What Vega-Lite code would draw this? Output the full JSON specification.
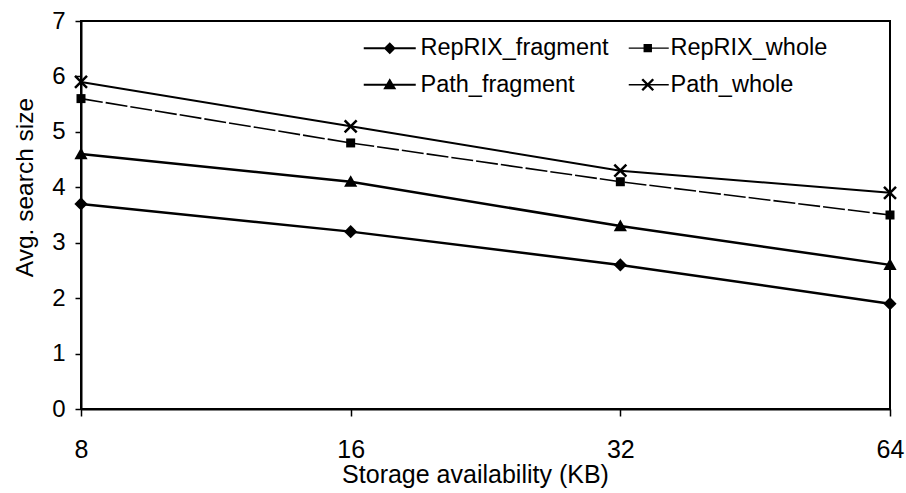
{
  "$schema": "https://vega.github.io/schema/vega-lite/v6.json",
  "autosize": {"type": "none"},
  "padding": {"left": 81, "top": 21, "right": 16, "bottom": 84},
  "width": 809,
  "height": 388,
  "background": "white",
  "config": {
    "font": "Liberation Sans",
    "view": {"stroke": "black", "strokeWidth": 2},
    "axis": {"grid": false, "domainColor": "black", "domainWidth": 2, "tickColor": "black", "tickWidth": 1.5, "labelColor": "black", "titleColor": "black", "labelFont": "Liberation Sans", "titleFont": "Liberation Sans", "labelFontSize": 24.5, "titleFontSize": 24.5, "titleFontWeight": "normal"}
  },
  "data": {
    "values": [
      {"kb": "8", "series": "RepRIX_fragment", "v": 3.7},
      {"kb": "16", "series": "RepRIX_fragment", "v": 3.2},
      {"kb": "32", "series": "RepRIX_fragment", "v": 2.6},
      {"kb": "64", "series": "RepRIX_fragment", "v": 1.9},
      {"kb": "8", "series": "RepRIX_whole", "v": 5.6},
      {"kb": "16", "series": "RepRIX_whole", "v": 4.8},
      {"kb": "32", "series": "RepRIX_whole", "v": 4.1},
      {"kb": "64", "series": "RepRIX_whole", "v": 3.5},
      {"kb": "8", "series": "Path_fragment", "v": 4.6},
      {"kb": "16", "series": "Path_fragment", "v": 4.1},
      {"kb": "32", "series": "Path_fragment", "v": 3.3},
      {"kb": "64", "series": "Path_fragment", "v": 2.6},
      {"kb": "8", "series": "Path_whole", "v": 5.9},
      {"kb": "16", "series": "Path_whole", "v": 5.1},
      {"kb": "32", "series": "Path_whole", "v": 4.3},
      {"kb": "64", "series": "Path_whole", "v": 3.9}
    ]
  },
  "encoding": {
    "x": {
      "field": "kb", "type": "ordinal", "sort": ["8", "16", "32", "64"],
      "scale": {"type": "point", "padding": 0},
      "axis": {"title": "Storage availability (KB)", "labelAngle": 0, "tickSize": 7, "labelPadding": 21, "titlePadding": 0, "titleX": 394, "labelFontSize": 25, "titleFontSize": 25}
    },
    "y": {
      "field": "v", "type": "quantitative",
      "scale": {"domain": [0, 7], "nice": false},
      "axis": {"title": "Avg. search size", "values": [0, 1, 2, 3, 4, 5, 6, 7], "tickSize": 6, "labelPadding": 10, "labelFontSize": 24, "titleX": -44, "titleY": 166, "titleBaseline": "bottom"}
    }
  },
  "layer": [
    {
      "transform": [{"filter": "datum.series == 'RepRIX_fragment' || datum.series == 'Path_fragment'"}],
      "mark": {"type": "line", "color": "black", "strokeWidth": 2.5},
      "encoding": {"detail": {"field": "series"}}
    },
    {
      "transform": [{"filter": "datum.series == 'RepRIX_whole'"}],
      "mark": {"type": "line", "color": "black", "strokeWidth": 1.6, "strokeDash": [22, 3]},
      "encoding": {"detail": {"field": "series"}}
    },
    {
      "transform": [{"filter": "datum.series == 'Path_whole'"}],
      "mark": {"type": "line", "color": "black", "strokeWidth": 2},
      "encoding": {"detail": {"field": "series"}}
    },
    {
      "mark": {"type": "point", "filled": true, "color": "black", "opacity": 1, "size": 144},
      "encoding": {
        "shape": {
          "field": "series", "type": "nominal",
          "scale": {
            "domain": ["RepRIX_fragment", "RepRIX_whole", "Path_fragment", "Path_whole"],
            "range": [
              "M0,-1.1L1.1,0L0,1.1L-1.1,0Z",
              "M-0.75,-0.75L0.75,-0.75L0.75,0.75L-0.75,0.75Z",
              "M0,-1.1L1.1,0.85L-1.1,0.85Z",
              "M-0.85,-1.15L1.15,0.85L0.85,1.15L-1.15,-0.85Z M-1.15,0.85L0.85,-1.15L1.15,-0.85L-0.85,1.15Z"
            ]
          },
          "legend": null
        }
      }
    },
    {
      "transform": [{"filter": "datum.v < 0"}],
      "mark": {"type": "point", "filled": true, "color": "black", "opacity": 1},
      "encoding": {
        "shape": {
          "field": "series", "type": "nominal",
          "scale": {
            "domain": ["RepRIX_fragment", "RepRIX_whole", "Path_fragment", "Path_whole"],
            "range": [
              "M-2.6,-0.1L2.6,-0.1L2.6,0.1L-2.6,0.1Z M0,-0.6L0.6,0L0,0.6L-0.6,0Z",
              "M-1.1,-0.07L2.9,-0.07L2.9,0.07L-1.1,0.07Z M0.38,-0.42L1.22,-0.42L1.22,0.42L0.38,0.42Z",
              "M-2.6,-0.1L2.6,-0.1L2.6,0.1L-2.6,0.1Z M0,-0.65L0.65,0.45L-0.65,0.45Z",
              "M-1.1,-0.08L2.9,-0.08L2.9,0.08L-1.1,0.08Z M0.335,-0.635L1.435,0.465L1.265,0.635L0.165,-0.465Z M0.165,0.465L1.265,-0.635L1.435,-0.465L0.335,0.635Z"
            ]
          },
          "legend": {
            "title": null,
            "orient": "none",
            "legendX": 297,
            "legendY": 15,
            "columns": 2,
            "direction": "horizontal",
            "padding": 0,
            "symbolSize": 400,
            "symbolFillColor": "black",
            "symbolStrokeColor": "black",
            "symbolStrokeWidth": 0,
            "symbolOpacity": 1,
            "labelOffset": 19,
            "labelFont": "Liberation Sans",
            "labelFontSize": 23.5,
            "labelColor": "black",
            "labelLimit": 400,
            "columnPadding": 19,
            "rowPadding": 12
          }
        }
      }
    }
  ],
  "resolve": {"scale": {"shape": "independent"}}
}
